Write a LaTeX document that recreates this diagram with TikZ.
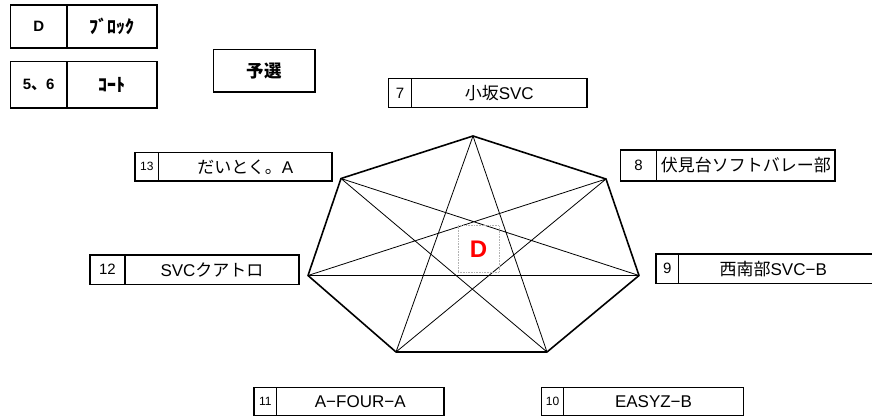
\documentclass[tikz,border=0pt]{standalone}
\usepackage{fontspec}
\setmainfont{Liberation Sans}
\newfontfamily\jp{Noto Sans CJK JP}
\newcommand{\tbox}[9]{%
  \node[cellbox,#7,minimum width={#3-#2},minimum height={#6-#5}] (n#1) at (#2,#5) {#8};
  \node[cellbox,tname,minimum width={#4-#3},minimum height={#6-#5}] (t#1) at (#3,#5) {#9};
}
\begin{document}
\begin{tikzpicture}[x=1pt,y=-1pt,
  cellbox/.style={draw, line width=1.8pt, inner sep=0pt, outer sep=0pt, anchor=north west, align=center},
  tname/.style={font=\fontsize{17}{17}\selectfont},
  tnum/.style={font=\fontsize{15}{15}\selectfont},
  tsnum/.style={font=\fontsize{12}{12}\selectfont},
  thead/.style={font=\fontsize{15}{15}\selectfont\bfseries},
  tkana/.style={font=\fontsize{18}{18}\selectfont\jp\bfseries},
  hside/.style={line width=1.6pt, line join=round},
  hdiag/.style={line width=0.8pt}]
\useasboundingbox (0,0) rectangle (872,418);

% header boxes
\node[cellbox,thead,minimum width=56.5pt,minimum height=43pt] (bD) at (10.5,5) {D};
\node[cellbox,tkana,minimum width=90pt,minimum height=43pt] (bBlock) at (67,5) {ﾌﾞﾛｯｸ};
\node[cellbox,thead,minimum width=56.5pt,minimum height=46.5pt] (bNum) at (10.5,61.5) {5{\jp\bfseries 、}6};
\node[cellbox,tkana,minimum width=90pt,minimum height=46.5pt] (bCourt) at (67,61.5) {ｺｰﾄ};
\node[cellbox,font=\fontsize{17.5}{17.5}\selectfont,minimum width=101.5pt,minimum height=42.5pt] (bYosen) at (213.5,49.5) {\jp\bfseries 予選};

% team boxes
\tbox{7}{388.5}{411.5}{587}{78.5}{107.5}{tnum}{7}{{\jp 小坂}SVC}
\tbox{8}{620.5}{656.5}{835}{150}{181}{tnum}{8}{\jp 伏見台ソフトバレー部}
\tbox{13}{135}{158.5}{332}{152.5}{181}{tsnum}{13}{{\jp だいとく。}A}
\tbox{12}{90}{125}{299}{255}{284.5}{tnum}{12}{SVC{\jp クアトロ}}
\tbox{9}{656}{678.5}{893}{254}{283.5}{tnum}{9}{\hspace*{-25pt}{\jp 西南部}SVC−B}
\tbox{11}{254}{276.5}{444}{387.5}{415.5}{tsnum}{11}{A−FOUR−A}
\tbox{10}{541.5}{563.5}{743.5}{387.5}{415.5}{tsnum}{10}{EASYZ−B}

% heptagon
\coordinate (v0) at (473,136);
\coordinate (v1) at (606,179);
\coordinate (v2) at (639,275.5);
\coordinate (v3) at (547,352);
\coordinate (v4) at (396,352);
\coordinate (v5) at (308,275.5);
\coordinate (v6) at (341,178.5);
\draw[hdiag] (v0)--(v3) (v0)--(v4) (v1)--(v4) (v1)--(v5) (v2)--(v5) (v2)--(v6) (v3)--(v6);
\draw[hside] (v0)--(v1)--(v2)--(v3)--(v4)--(v5)--(v6)--cycle;

% centre label
\node[draw=gray!60, densely dotted, line width=0.6pt, inner sep=0pt, outer sep=0pt, anchor=north west,
      minimum width=41pt, minimum height=46.5pt, text=red, font=\fontsize{24}{24}\selectfont\bfseries] (cD) at (458,225.5) {D};
\end{tikzpicture}
\end{document}
